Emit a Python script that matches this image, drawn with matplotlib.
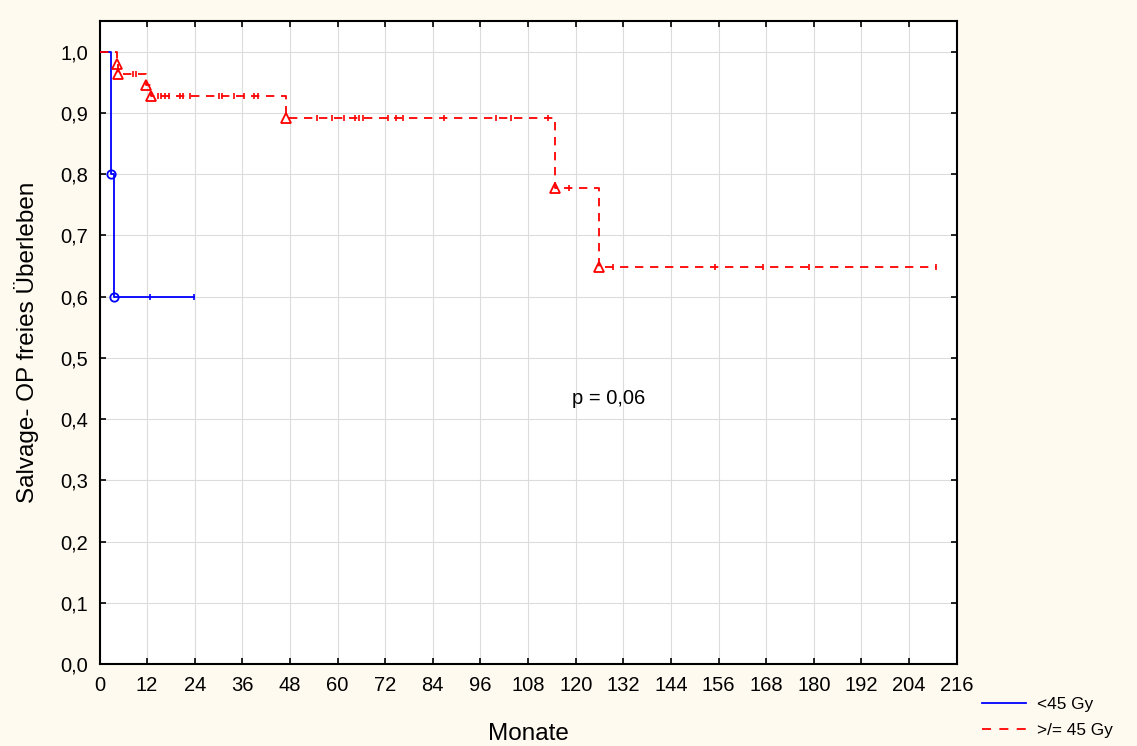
import numpy as np
import matplotlib
matplotlib.use("Agg")
import matplotlib.pyplot as plt
from matplotlib.lines import Line2D

plt.rcParams['font.family'] = ['Liberation Sans', 'DejaVu Sans']
plt.rcParams['lines.scale_dashes'] = False

# ---- data (months, survival) ----
# group < 45 Gy
low_event_t = [0.0, 2.8, 3.6, 23.7]
low_event_s = [1.0, 0.80, 0.60, 0.60]
low_marker_t = [2.8, 3.6]
low_marker_s = [0.80, 0.60]
low_censor_t = [12.6, 23.7]

# group >= 45 Gy
high_event_t = [0.0, 4.5, 4.7, 11.8, 12.9, 46.9, 114.7, 125.8, 210.9]
high_event_s = [1.0, 0.980, 0.964, 0.946, 0.928, 0.892, 0.778, 0.648, 0.648]
high_marker_t = [4.5, 4.7, 11.8, 12.9, 46.9, 114.7, 125.8]
high_marker_s = [0.980, 0.964, 0.946, 0.928, 0.892, 0.778, 0.648]
high_censor_t = [8.4, 9.1, 14.7, 15.5, 16.6, 17.6, 20.2, 21.0, 22.7, 30.2, 30.9,
                 34.0, 36.4, 38.9, 39.9, 54.7, 58.5, 61.5, 64.5, 65.5, 66.5, 72.6,
                 74.8, 76.6, 86.9, 100.0, 103.8, 112.9, 118.2, 129.3, 155.0, 167.1,
                 178.9, 210.9]

x_ticks = list(range(0, 217, 12))
y_ticks = [0.0, 0.1, 0.2, 0.3, 0.4, 0.5, 0.6, 0.7, 0.8, 0.9, 1.0]
y_tick_labels = ['0,0', '0,1', '0,2', '0,3', '0,4', '0,5', '0,6', '0,7', '0,8', '0,9', '1,0']
legend_labels = ['<45 Gy', '>/= 45 Gy']
p_text = 'p = 0,06'


def level_at(ts, ss, tq):
    idx = np.searchsorted(np.asarray(ts), np.asarray(tq), side='right') - 1
    return np.asarray(ss)[idx]


bg = '#FFFAF0'
fig = plt.figure(figsize=(11.37, 7.46), dpi=100, facecolor=bg)
ax = fig.add_axes([99.5 / 1137, 1 - 664 / 746, (956.7 - 99.5) / 1137, (664 - 21) / 746])
ax.set_facecolor('white')

blue = '#0000FF'
red = '#FF0000'
lw = 1.3
dash = (0, (6.0, 4.8))

# blue curve
ax.step(low_event_t, low_event_s, where='post', color=blue, lw=lw, zorder=3)
ax.plot(low_marker_t, low_marker_s, ls='none', marker='o', ms=6, mfc='none',
        mec=blue, mew=1.3, zorder=4)
ax.plot(low_censor_t, level_at(low_event_t, low_event_s, low_censor_t), ls='none',
        marker='|', ms=4.5, mec=blue, mew=1.2, zorder=4)

# red curve
ax.step(high_event_t, high_event_s, where='post', color=red, lw=lw, ls=dash, zorder=3)
ax.plot(high_marker_t, high_marker_s, ls='none', marker='^', ms=6.5, mfc='none',
        mec=red, mew=1.3, zorder=4)
ax.plot(high_censor_t, level_at(high_event_t, high_event_s, high_censor_t), ls='none',
        marker='|', ms=4.5, mec=red, mew=1.2, zorder=4)

ax.set_xlim(0, 216)
ax.set_ylim(0, 1.05)
ax.set_xticks(x_ticks)
ax.set_xticklabels([str(v) for v in x_ticks])
ax.set_yticks(y_ticks)
ax.set_yticklabels(y_tick_labels)
ax.grid(True, color='#DCDCDC', lw=0.8, zorder=0)
ax.set_axisbelow(True)
ax.tick_params(axis='both', which='both', direction='in', length=4, width=1.2,
               top=True, right=True, labelsize=14.5, colors='black')
ax.tick_params(axis='x', pad=8.5)
ax.tick_params(axis='y', pad=8)
for sp in ax.spines.values():
    sp.set_linewidth(1.5)
    sp.set_color('black')

ax.set_xlabel('Monate', fontsize=17.5)
ax.xaxis.set_label_coords(0.5, -0.092)
ax.set_ylabel('Salvage- OP freies Überleben', fontsize=17.5)
ax.yaxis.set_label_coords(-0.071, 0.5)

ax.text(128.3, 0.433, p_text, fontsize=14.5, ha='center', va='center')

handles = [Line2D([], [], color=blue, lw=lw),
           Line2D([], [], color=red, lw=lw, ls=(0, (6.5, 6.0)))]
fig.legend(handles, legend_labels, loc='upper left',
           bbox_to_anchor=(982 / 1137, 1 - 697 / 746), frameon=False,
           fontsize=12.4, handlelength=2.56, handletextpad=0.64,
           borderpad=0, borderaxespad=0, labelspacing=0.62)

fig.savefig('out.png', dpi=100, facecolor=bg)
